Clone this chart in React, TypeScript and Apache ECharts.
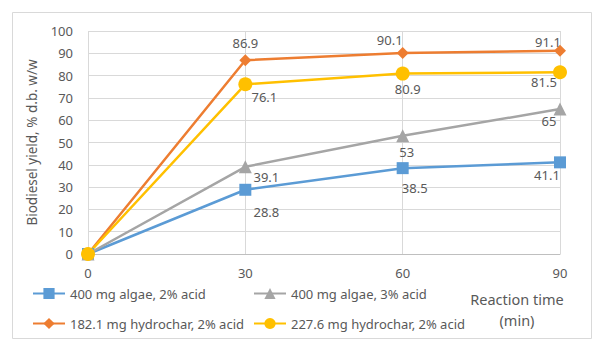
import React, { useEffect, useRef } from "react";
import * as echarts from "echarts";

const times = [0, 30, 60, 90];
const seriesNames = [
  "400 mg algae, 2% acid",
  "400 mg algae, 3% acid",
  "182.1 mg hydrochar, 2% acid",
  "227.6 mg hydrochar, 2% acid",
];
const algae2 = [0, 28.8, 38.5, 41.1];
const algae3 = [0, 39.1, 53, 65];
const hydro182 = [0, 86.9, 90.1, 91.1];
const hydro227 = [0, 76.1, 80.9, 81.5];
const colors = ["#5B9BD5", "#A5A5A5", "#ED7D31", "#FFC000"];
const symbols = ["rect", "triangle", "diamond", "circle"];
const symbolSizes = [12, 13, 12, 14];
// label offsets (px) relative to each point, per series
const labelOffsets: number[][][] = [
  [[0, 0], [21, 22], [12, 20], [-13, 13]],
  [[0, 0], [21, 10], [4, 16], [-11, 12]],
  [[0, 0], [0, -17], [-13, -13], [-12, -9]],
  [[0, 0], [19, 13], [5, 15], [-16, 10]],
];

const FONT = "Noto Sans";
const TXT = "#595959";

export default function App() {
  const ref = useRef<HTMLDivElement>(null);
  useEffect(() => {
    document.body.style.margin = "0";
    const chart = echarts.init(ref.current!, undefined, { renderer: "svg" });
    const allData = [algae2, algae3, hydro182, hydro227];
    const series = allData.map((vals, si) => ({
      type: "line",
      name: seriesNames[si],
      symbol: symbols[si],
      symbolSize: symbolSizes[si],
      color: colors[si],
      lineStyle: { width: 2.5, color: colors[si] },
      itemStyle: { color: colors[si] },
      data: vals.map((v, i) => ({
        value: [times[i], v],
        label: {
          show: i > 0,
          position: "inside",
          offset: labelOffsets[si][i],
          formatter: String(v),
          color: TXT,
          fontFamily: FONT,
          fontSize: 13,
        },
      })),
    }));
    const legends = seriesNames.map((n, i) => ({
      data: [n],
      left: i % 2 === 0 ? 32 : 253,
      top: i < 2 ? 287 : 317,
      padding: 0,
      itemWidth: 32,
      itemHeight: 14,
      textStyle: { color: TXT, fontFamily: FONT, fontSize: 13 },
    }));
    chart.setOption({
      animation: false,
      legend: legends,
      grid: { left: 88, right: 43, top: 31, bottom: 94, containLabel: false },
      xAxis: {
        type: "value",
        min: 0,
        max: 90,
        interval: 30,
        axisLine: { show: true, lineStyle: { color: "#BFBFBF", width: 1 } },
        axisTick: { show: false },
        axisLabel: { color: TXT, fontFamily: FONT, fontSize: 13, margin: 12 },
        splitLine: { show: true, lineStyle: { color: "#D9D9D9", width: 1 } },
      },
      yAxis: {
        type: "value",
        min: 0,
        max: 100,
        interval: 10,
        name: "Biodiesel yield, % d.b. w/w",
        nameLocation: "middle",
        nameGap: 49,
        nameTextStyle: { color: TXT, fontFamily: FONT, fontSize: 13.5 },
        axisLine: { show: false },
        axisTick: { show: false },
        axisLabel: { color: TXT, fontFamily: FONT, fontSize: 13, margin: 15 },
        splitLine: { show: true, lineStyle: { color: "#D9D9D9", width: 1 } },
      },
      graphic: [
        {
          type: "rect",
          shape: { x: 12.5, y: 12.5, width: 579, height: 326 },
          style: { fill: "none", stroke: "#D9D9D9", lineWidth: 1 },
          silent: true,
        },
        {
          type: "text",
          x: 517,
          y: 299,
          style: {
            text: "Reaction time",
            fill: TXT,
            font: `14.5px "${FONT}"`,
            textAlign: "center",
            textVerticalAlign: "middle",
          },
        },
        {
          type: "text",
          x: 517,
          y: 320,
          style: {
            text: "(min)",
            fill: TXT,
            font: `14.5px "${FONT}"`,
            textAlign: "center",
            textVerticalAlign: "middle",
          },
        },
      ],
      series,
    });
    return () => chart.dispose();
  }, []);
  return <div ref={ref} style={{ width: 603, height: 348 }} />;
}
